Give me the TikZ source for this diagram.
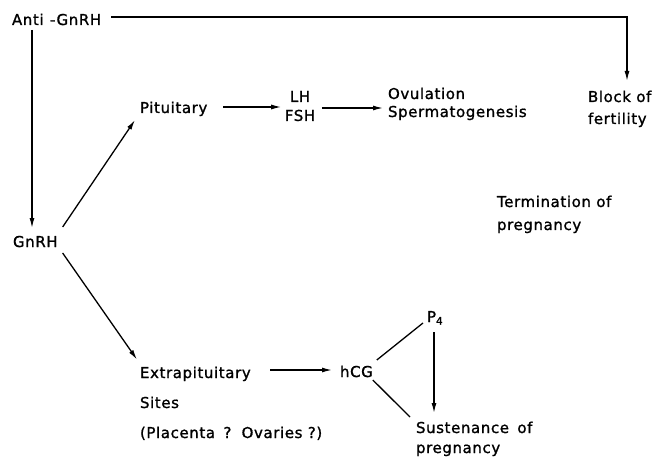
\documentclass[tikz,border=0pt]{standalone}
\usepackage{fontspec}
\setmainfont{DejaVu Sans}[LetterSpace=4, FakeBold=1.2]
\usetikzlibrary{arrows.meta}
\begin{document}
\begin{tikzpicture}[x=1pt,y=-1pt,
  every node/.style={inner sep=0pt, outer sep=0pt, font=\fontsize{15}{19}\selectfont},
  lbl/.style={anchor=base west},
  blk/.style={anchor=north west, align=left},
  arr/.style={line width=1.3pt, -{Latex[length=10pt,width=5pt]}},
  ln/.style={line width=1.3pt}]
\useasboundingbox (0,0) rectangle (659,460);

% nodes
\node[lbl] (anti) at (12,25) {Anti\hspace{1pt} -GnRH};
\node[lbl] (gnrh) at (13,247) {GnRH};
\node[lbl] (pit) at (140,113) {Pituitary};
\node[anchor=north, align=center] (lh) at (300,91) {LH\\FSH};
\node[blk] (ovu) at (388,87.6) {Ovulation\\[-1pt]Spermatogenesis};
\node[blk] (block) at (588,90.6) {Block of\\[3pt]fertility};
\node[blk] (term) at (497,195.6) {Termination of\\[4pt]pregnancy};
\node[blk] (extra) at (140,366.6) {Extrapituitary\\[11pt]Sites\\[11pt](Placenta\hspace{3pt} ?\hspace{3pt} Ovaries ?)};
\node[lbl] (hcg) at (340,377) {hCG};
\node[lbl] (p4) at (427,322) {P\textsubscript{4}};
\node[blk] (sus) at (416,421.6) {Sustenance\hspace{3pt} of\\[1pt]pregnancy};

% connectors
\draw[arr] ([xshift=10pt,yshift=8pt]anti.base east) -| ([xshift=39pt,yshift=9.6pt]block.north west);
\draw[arr] ([xshift=20pt,yshift=-5pt]anti.base west) -- ([xshift=19pt,yshift=19pt]gnrh.base west);
\draw[arr] ([xshift=5pt,yshift=20pt]gnrh.base east) -- ([xshift=-5pt,yshift=-7pt]pit.base west);
\draw[arr] ([xshift=5pt,yshift=-6pt]gnrh.base east) -- ([xshift=-3pt,yshift=7pt]extra.north west);
\draw[arr] ([xshift=16pt,yshift=6pt]pit.base east) -- ([xshift=-3.6pt,yshift=-16pt]lh.north west);
\draw[arr] ([xshift=6.6pt,yshift=-17pt]lh.north east) -- ([xshift=-5pt,yshift=-20.4pt]ovu.north west);
\draw[arr] ([xshift=130pt,yshift=-3.4pt]extra.north west) -- ([xshift=-8pt,yshift=7pt]hcg.base west);
\draw[ln] ([xshift=4pt,yshift=5.6pt]hcg.north east) -- ([xshift=-4pt,yshift=-1pt]p4.base west);
\draw[ln] ([yshift=-3pt]hcg.base east) -- ([xshift=-6pt,yshift=4.6pt]sus.north west);
\draw[arr] ([xshift=7pt,yshift=-10pt]p4.base west) -- ([xshift=18pt,yshift=8.6pt]sus.north west);
\end{tikzpicture}
\end{document}
